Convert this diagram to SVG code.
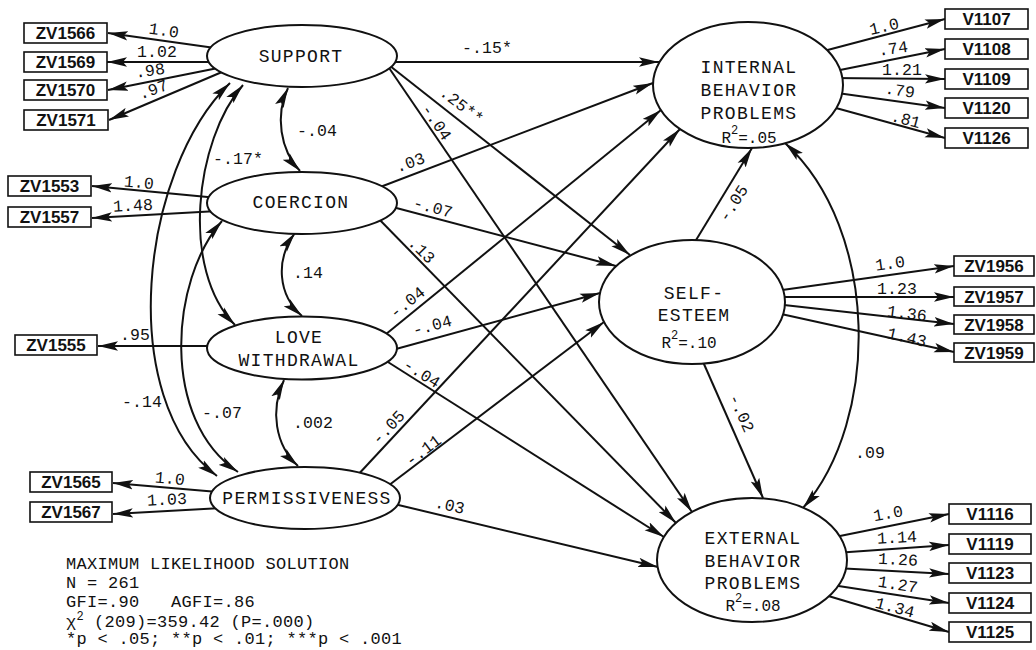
<svg xmlns="http://www.w3.org/2000/svg" width="1036" height="650" viewBox="0 0 1036 650">
  <style>
    .c { stroke: #111; stroke-width: 2; fill: none; }
    .a { marker-end: url(#ah); }
    .d { marker-start: url(#ah2); marker-end: url(#ah2); }
    .n ellipse { fill: #fff; stroke: #111; stroke-width: 2; }
    .n rect { fill: #fff; stroke: #111; stroke-width: 1.6; }
    .lt { font-family: "Liberation Mono", "DejaVu Sans Mono", monospace; font-size: 18px; letter-spacing: 1.3px; fill: #111; text-anchor: middle; }
    .bt { font-family: "Liberation Sans", Arial, sans-serif; font-size: 17px; font-weight: bold; fill: #111; text-anchor: middle; }
    .pl { font-family: "Liberation Mono", "DejaVu Sans Mono", monospace; font-size: 16.5px; letter-spacing: 0.1px; fill: #111; text-anchor: middle; }
    .lg { font-family: "Liberation Mono", "DejaVu Sans Mono", monospace; font-size: 17px; letter-spacing: 0.3px; fill: #111; }
  </style>
  <defs>
    <marker id="ah" viewBox="0 0 20 10" markerWidth="20" markerHeight="10" refX="20" refY="5" orient="auto" markerUnits="userSpaceOnUse">
      <path d="M0,0.3 L20,5 L0,9.7 L4,5 z" fill="#111"/>
    </marker>
    <marker id="ah2" viewBox="0 0 20 10" markerWidth="20" markerHeight="10" refX="20" refY="5" orient="auto-start-reverse" markerUnits="userSpaceOnUse">
      <path d="M0,0.3 L20,5 L0,9.7 L4,5 z" fill="#111"/>
    </marker>
  </defs>
  <rect width="1036" height="650" fill="#fff"/>

  <!-- connectors: loadings, structural paths, covariances -->
  <g id="connectors">
    <!-- SUPPORT indicators -->
    <line class="c a" x1="215" y1="48" x2="108" y2="33"/>
    <line class="c a" x1="215" y1="62" x2="107" y2="62"/>
    <line class="c a" x1="218" y1="68" x2="108" y2="90"/>
    <line class="c a" x1="222" y1="72" x2="109" y2="120"/>
    <!-- COERCION indicators -->
    <line class="c a" x1="218" y1="198" x2="92" y2="186"/>
    <line class="c a" x1="218" y1="211" x2="92" y2="218"/>
    <!-- LOVE WITHDRAWAL indicator -->
    <line class="c a" x1="215" y1="346" x2="98" y2="346"/>
    <!-- PERMISSIVENESS indicators -->
    <line class="c a" x1="218" y1="492" x2="113" y2="483"/>
    <line class="c a" x1="222" y1="508" x2="113" y2="514"/>

    <!-- INTERNAL indicators -->
    <line class="c a" x1="820" y1="52" x2="945" y2="19"/>
    <line class="c a" x1="830" y1="72" x2="945" y2="49"/>
    <line class="c a" x1="830" y1="78" x2="945" y2="79"/>
    <line class="c a" x1="830" y1="92" x2="945" y2="108"/>
    <line class="c a" x1="825" y1="105" x2="945" y2="138"/>
    <!-- SELF-ESTEEM indicators -->
    <line class="c a" x1="775" y1="291" x2="954" y2="266"/>
    <line class="c a" x1="775" y1="297" x2="954" y2="297"/>
    <line class="c a" x1="775" y1="304" x2="954" y2="324"/>
    <line class="c a" x1="772" y1="312" x2="954" y2="352"/>
    <!-- EXTERNAL indicators -->
    <line class="c a" x1="830" y1="538" x2="949" y2="514"/>
    <line class="c a" x1="835" y1="553" x2="949" y2="545"/>
    <line class="c a" x1="835" y1="568" x2="949" y2="574"/>
    <line class="c a" x1="832" y1="585" x2="949" y2="603"/>
    <line class="c a" x1="825" y1="595" x2="949" y2="632"/>

    <!-- structural paths -->
    <line class="c a" x1="385" y1="62" x2="659" y2="62"/>
    <line class="c a" x1="385" y1="62" x2="630" y2="255"/>
    <line class="c a" x1="385" y1="62" x2="692" y2="512"/>
    <line class="c a" x1="375" y1="189" x2="653" y2="83"/>
    <line class="c a" x1="385" y1="205" x2="616" y2="266"/>
    <line class="c a" x1="375" y1="215" x2="676" y2="523"/>
    <line class="c a" x1="380" y1="339" x2="661" y2="110"/>
    <line class="c a" x1="385" y1="352" x2="600" y2="293"/>
    <line class="c a" x1="380" y1="357" x2="664" y2="537"/>
    <line class="c a" x1="355" y1="478" x2="680" y2="129"/>
    <line class="c a" x1="380" y1="492" x2="604" y2="322"/>
    <line class="c a" x1="390" y1="503" x2="658" y2="567"/>
    <line class="c a" x1="690" y1="250" x2="752" y2="148"/>
    <line class="c a" x1="700" y1="355" x2="763" y2="498"/>

    <!-- covariances -->
    <path class="c d" d="M288,88 C275,115 280,150 300,171"/>
    <path class="c d" d="M295,233 C275,260 278,295 302,316"/>
    <path class="c d" d="M284,380 C270,410 275,445 298,466"/>
    <path class="c d" d="M243,85 C195,140 180,270 235,325"/>
    <path class="c d" d="M222,221 C170,280 160,420 238,472"/>
    <path class="c d" d="M230,83 C140,170 115,400 217,476"/>
    <path class="c d" d="M785,143 C880,230 880,420 803,508"/>
  </g>

  <!-- path coefficients -->
  <g id="coefficients">
    <text class="pl" x="164" y="30" dy="0.35em" transform="rotate(8 164 30)">1.0</text>
    <text class="pl" x="157" y="51" dy="0.35em">1.02</text>
    <text class="pl" x="150" y="70" dy="0.35em" transform="rotate(-8 150 70)">.98</text>
    <text class="pl" x="153" y="89" dy="0.35em" transform="rotate(-20 153 89)">.97</text>
    <text class="pl" x="139" y="182" dy="0.35em" transform="rotate(5 139 182)">1.0</text>
    <text class="pl" x="133" y="205" dy="0.35em" transform="rotate(-3 133 205)">1.48</text>
    <text class="pl" x="135" y="334" dy="0.35em">.95</text>
    <text class="pl" x="170" y="478" dy="0.35em" transform="rotate(5 170 478)">1.0</text>
    <text class="pl" x="167" y="499" dy="0.35em" transform="rotate(-3 167 499)">1.03</text>

    <text class="pl" x="884" y="26" dy="0.35em" transform="rotate(-13 884 26)">1.0</text>
    <text class="pl" x="893" y="48" dy="0.35em" transform="rotate(-8 893 48)">.74</text>
    <text class="pl" x="902" y="69" dy="0.35em">1.21</text>
    <text class="pl" x="900" y="90" dy="0.35em" transform="rotate(8 900 90)">.79</text>
    <text class="pl" x="906" y="119" dy="0.35em" transform="rotate(15 906 119)">.81</text>

    <text class="pl" x="890" y="263" dy="0.35em" transform="rotate(-8 890 263)">1.0</text>
    <text class="pl" x="897" y="288" dy="0.35em">1.23</text>
    <text class="pl" x="907" y="313" dy="0.35em" transform="rotate(7 907 313)">1.36</text>
    <text class="pl" x="907" y="337" dy="0.35em" transform="rotate(13 907 337)">1.43</text>

    <text class="pl" x="888" y="513" dy="0.35em" transform="rotate(-10 888 513)">1.0</text>
    <text class="pl" x="897" y="537" dy="0.35em" transform="rotate(-3 897 537)">1.14</text>
    <text class="pl" x="898" y="559" dy="0.35em" transform="rotate(3 898 559)">1.26</text>
    <text class="pl" x="898" y="584" dy="0.35em" transform="rotate(9 898 584)">1.27</text>
    <text class="pl" x="895" y="607" dy="0.35em" transform="rotate(15 895 607)">1.34</text>

    <text class="pl" x="487" y="47" dy="0.35em">-.15*</text>
    <text class="pl" x="462" y="105" dy="0.35em" transform="rotate(38 462 105)">.25**</text>
    <text class="pl" x="437" y="122" dy="0.35em" transform="rotate(56 437 122)">-.04</text>
    <text class="pl" x="410" y="162" dy="0.35em" transform="rotate(-20 410 162)">.03</text>
    <text class="pl" x="433" y="207" dy="0.35em" transform="rotate(15 433 207)">-.07</text>
    <text class="pl" x="422" y="250" dy="0.35em" transform="rotate(45 422 250)">.13</text>
    <text class="pl" x="407" y="302" dy="0.35em" transform="rotate(-39 407 302)">-.04</text>
    <text class="pl" x="432" y="325" dy="0.35em" transform="rotate(-15 432 325)">-.04</text>
    <text class="pl" x="422" y="373" dy="0.35em" transform="rotate(32 422 373)">-.04</text>
    <text class="pl" x="388" y="427" dy="0.35em" transform="rotate(-47 388 427)">-.05</text>
    <text class="pl" x="423" y="450" dy="0.35em" transform="rotate(-37 423 450)">-.11</text>
    <text class="pl" x="450" y="505" dy="0.35em" transform="rotate(13 450 505)">.03</text>
    <text class="pl" x="733" y="203" dy="0.35em" transform="rotate(-57 733 203)">-.05</text>
    <text class="pl" x="742" y="413" dy="0.35em" transform="rotate(66 742 413)">-.02</text>
    <text class="pl" x="870" y="452" dy="0.35em">.09</text>

    <text class="pl" x="317" y="130" dy="0.35em">-.04</text>
    <text class="pl" x="238" y="158" dy="0.35em">-.17*</text>
    <text class="pl" x="308" y="272" dy="0.35em">.14</text>
    <text class="pl" x="313" y="422" dy="0.35em">.002</text>
    <text class="pl" x="142" y="401" dy="0.35em">-.14</text>
    <text class="pl" x="222" y="412" dy="0.35em">-.07</text>
  </g>

  <!-- latent variables -->
  <g id="support" class="n">
    <ellipse cx="302" cy="56" rx="95" ry="31"/>
    <text class="lt" x="301" y="62">SUPPORT</text>
  </g>
  <g id="coercion" class="n">
    <ellipse cx="302" cy="203" rx="95" ry="31"/>
    <text class="lt" x="301" y="208">COERCION</text>
  </g>
  <g id="love-withdrawal" class="n">
    <ellipse cx="302" cy="348" rx="95" ry="31.5"/>
    <text class="lt" x="299" y="343">LOVE</text>
    <text class="lt" x="299" y="366">WITHDRAWAL</text>
  </g>
  <g id="permissiveness" class="n">
    <ellipse cx="305" cy="498" rx="95" ry="31"/>
    <text class="lt" x="307" y="504">PERMISSIVENESS</text>
  </g>
  <g id="internal" class="n">
    <ellipse cx="748" cy="85" rx="95" ry="63"/>
    <text class="lt" x="749" y="73">INTERNAL</text>
    <text class="lt" x="749" y="96">BEHAVIOR</text>
    <text class="lt" x="749" y="119">PROBLEMS</text>
    <text class="lt" x="749" y="143" style="letter-spacing:0px;font-size:16px">R<tspan dy="-9" font-size="12">2</tspan><tspan dy="9">=.05</tspan></text>
  </g>
  <g id="self-esteem" class="n">
    <ellipse cx="692" cy="302" rx="93" ry="62"/>
    <text class="lt" x="694" y="299">SELF-</text>
    <text class="lt" x="694" y="321">ESTEEM</text>
    <text class="lt" x="689" y="348" style="letter-spacing:0px;font-size:16px">R<tspan dy="-9" font-size="12">2</tspan><tspan dy="9">=.10</tspan></text>
  </g>
  <g id="external" class="n">
    <ellipse cx="752" cy="560" rx="95" ry="62"/>
    <text class="lt" x="753" y="544">EXTERNAL</text>
    <text class="lt" x="753" y="567">BEHAVIOR</text>
    <text class="lt" x="753" y="589">PROBLEMS</text>
    <text class="lt" x="753" y="611" style="letter-spacing:0px;font-size:16px">R<tspan dy="-9" font-size="12">2</tspan><tspan dy="9">=.08</tspan></text>
  </g>

  <!-- observed indicators -->
  <g id="zv1566" class="n"><rect x="24" y="23" width="83" height="20"/><text class="bt" x="65.5" y="39">ZV1566</text></g>
  <g id="zv1569" class="n"><rect x="24" y="52" width="83" height="20"/><text class="bt" x="65.5" y="68">ZV1569</text></g>
  <g id="zv1570" class="n"><rect x="24" y="80" width="83" height="20"/><text class="bt" x="65.5" y="96">ZV1570</text></g>
  <g id="zv1571" class="n"><rect x="24" y="110" width="84" height="20"/><text class="bt" x="66" y="126">ZV1571</text></g>
  <g id="zv1553" class="n"><rect x="8" y="176" width="83" height="20"/><text class="bt" x="49.5" y="192">ZV1553</text></g>
  <g id="zv1557" class="n"><rect x="8" y="207" width="83" height="20"/><text class="bt" x="49.5" y="223">ZV1557</text></g>
  <g id="zv1555" class="n"><rect x="15" y="335" width="82" height="20"/><text class="bt" x="56" y="351">ZV1555</text></g>
  <g id="zv1565" class="n"><rect x="30" y="472" width="82" height="20"/><text class="bt" x="71" y="488">ZV1565</text></g>
  <g id="zv1567" class="n"><rect x="30" y="502" width="82" height="20"/><text class="bt" x="71" y="518">ZV1567</text></g>

  <g id="v1107" class="n"><rect x="945" y="9" width="83" height="20"/><text class="bt" x="986.5" y="25">V1107</text></g>
  <g id="v1108" class="n"><rect x="945" y="39" width="83" height="20"/><text class="bt" x="986.5" y="55">V1108</text></g>
  <g id="v1109" class="n"><rect x="945" y="69" width="83" height="20"/><text class="bt" x="986.5" y="85">V1109</text></g>
  <g id="v1120" class="n"><rect x="945" y="98" width="83" height="20"/><text class="bt" x="986.5" y="114">V1120</text></g>
  <g id="v1126" class="n"><rect x="945" y="128" width="83" height="20"/><text class="bt" x="986.5" y="144">V1126</text></g>

  <g id="zv1956" class="n"><rect x="954" y="256" width="80" height="20"/><text class="bt" x="994" y="272">ZV1956</text></g>
  <g id="zv1957" class="n"><rect x="954" y="287" width="80" height="19"/><text class="bt" x="994" y="303">ZV1957</text></g>
  <g id="zv1958" class="n"><rect x="954" y="315" width="80" height="19"/><text class="bt" x="994" y="331">ZV1958</text></g>
  <g id="zv1959" class="n"><rect x="954" y="343" width="80" height="19"/><text class="bt" x="994" y="359">ZV1959</text></g>

  <g id="v1116" class="n"><rect x="949" y="504" width="82" height="20"/><text class="bt" x="990" y="520">V1116</text></g>
  <g id="v1119" class="n"><rect x="949" y="534" width="82" height="20"/><text class="bt" x="990" y="550">V1119</text></g>
  <g id="v1123" class="n"><rect x="949" y="563" width="82" height="20"/><text class="bt" x="990" y="579">V1123</text></g>
  <g id="v1124" class="n"><rect x="949" y="593" width="82" height="20"/><text class="bt" x="990" y="609">V1124</text></g>
  <g id="v1125" class="n"><rect x="949" y="622" width="82" height="20"/><text class="bt" x="990" y="638">V1125</text></g>

  <!-- fit statistics -->
  <g id="fit-summary">
    <text class="lg" x="66" y="569">MAXIMUM LIKELIHOOD SOLUTION</text>
    <text class="lg" x="66" y="588">N = 261</text>
    <text class="lg" x="66" y="607">GFI=.90<tspan x="171">AGFI=.86</tspan></text>
    <text class="lg" x="66" y="627">χ<tspan dy="-7" font-size="12">2</tspan><tspan dy="7" x="94">(209)=359.42 (P=.000)</tspan></text>
    <text class="lg" x="66" y="644">*p &lt; .05; **p &lt; .01; ***p &lt; .001</text>
  </g>
</svg>
